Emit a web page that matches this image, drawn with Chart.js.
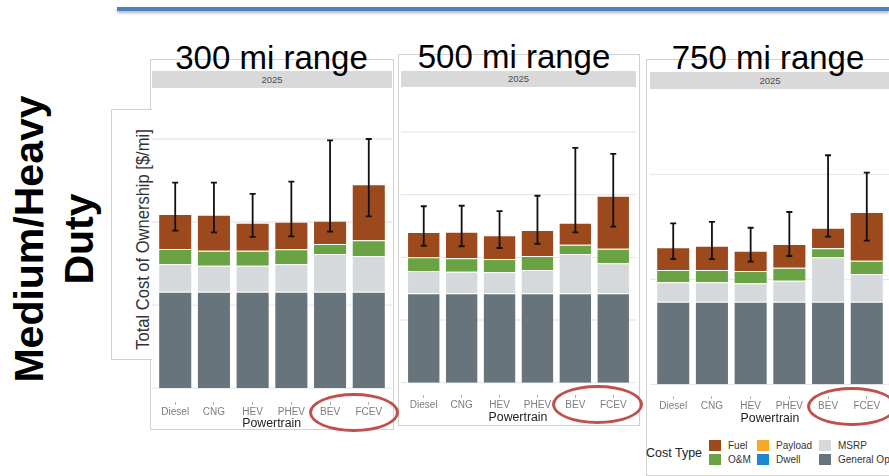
<!DOCTYPE html>
<html>
<head>
<meta charset="utf-8">
<script src="https://cdn.jsdelivr.net/npm/chart.js@4"></script>
<style>
  html, body { margin: 0; padding: 0; background: #fff; }
  body { position: relative; width: 889px; height: 476px; overflow: hidden; font-family: "Liberation Sans", Arial, sans-serif; }
  .abs { position: absolute; }
  .frame { position: absolute; border: 1px solid #d2d2d2; box-sizing: border-box; }
  .strip { position: absolute; background: #d9d9d9; color: #4d4d4d; font-size: 9.5px; text-align: center; }
  .title { position: absolute; font-size: 33px; line-height: 33px; color: #000; white-space: nowrap; transform: translateX(-50%); }
  .xtitle { position: absolute; font-size: 12.3px; line-height: 14px; color: #222; transform: translate(-50%, -50%); white-space: nowrap; }
  .ring { position: absolute; border: 3px solid #c0504d; border-radius: 50%; box-sizing: border-box; }
  .key { position: absolute; width: 12px; height: 11px; }
  .klabel { position: absolute; font-size: 10px; line-height: 11px; color: #333; white-space: nowrap; }
</style>
</head>
<body>

<div class="abs" style="left:117px;top:7px;width:772px;height:4px;background:#4f81bd;box-shadow:0 2px 3px rgba(0,0,0,0.3);"></div>

<div class="abs" style="left:-106px;top:189px;width:320px;height:100px;transform:rotate(-90deg);font-weight:bold;font-size:41px;line-height:50px;text-align:center;color:#000;">Medium/Heavy<br>Duty</div>

<!-- panel frames -->
<div class="frame" style="left:150px;top:59px;width:244px;height:371px;"></div>
<div class="frame" style="left:398px;top:54px;width:242px;height:372px;"></div>
<div class="frame" style="left:646px;top:59px;width:260px;height:417px;"></div>

<!-- y axis title box -->
<div class="abs" style="left:111px;top:109px;width:41px;height:251px;background:#fff;border:1px solid #d2d2d2;border-right:none;box-sizing:border-box;"></div>
<div class="abs" style="left:2px;top:229.5px;width:280px;height:19px;font-size:19px;line-height:19px;color:#333;text-align:center;white-space:nowrap;transform:rotate(-90deg) scaleX(0.87);">Total Cost of Ownership [$/mi]</div>

<div class="strip" id="strip0" style="left:152px;top:71px;width:240px;height:17px;line-height:17px;"></div>
<div class="strip" id="strip1" style="left:401px;top:71px;width:235px;height:16px;line-height:16px;"></div>
<div class="strip" id="strip2" style="left:650px;top:72px;width:240px;height:17px;line-height:17px;"></div>

<canvas id="c300" class="abs"></canvas>
<canvas id="c500" class="abs"></canvas>
<canvas id="c750" class="abs"></canvas>

<div class="title" id="title0" style="left:271.5px;top:40.5px;"></div>
<div class="title" id="title1" style="left:514px;top:39.5px;"></div>
<div class="title" id="title2" style="left:768px;top:40.5px;"></div>

<div class="xtitle" id="xt0" style="left:271.7px;top:423.3px;"></div>
<div class="xtitle" id="xt1" style="left:518px;top:416.7px;"></div>
<div class="xtitle" id="xt2" style="left:770px;top:418.3px;"></div>

<div class="ring" style="left:309px;top:393px;width:90px;height:39px;"></div>
<div class="ring" style="left:552px;top:385px;width:91px;height:39px;"></div>
<div class="ring" style="left:807px;top:387px;width:90px;height:39px;"></div>

<div id="legend"></div>

<script>
// categories and cost components
var powertrains = ['Diesel', 'CNG', 'HEV', 'PHEV', 'BEV', 'FCEV'];
var costTypes = ['Fuel', 'O&M', 'Payload', 'Dwell', 'MSRP', 'General Op'];
var rangeTitles = ['300 mi range', '500 mi range', '750 mi range'];
var yearLabel = '2025';
var xAxisTitle = 'Powertrain';
var legendTitle = 'Cost Type';

// 300 mi range [$/mi]
var generalOp300 = [0.58, 0.58, 0.58, 0.58, 0.58, 0.58];
var msrp300 = [0.167, 0.157, 0.157, 0.165, 0.227, 0.215];
var om300 = [0.09, 0.09, 0.09, 0.091, 0.06, 0.095];
var fuel300 = [0.211, 0.217, 0.169, 0.166, 0.141, 0.337];
var errLow300 = [0.948, 0.938, 0.91, 0.914, 0.942, 1.034];
var errHigh300 = [1.237, 1.237, 1.169, 1.243, 1.492, 1.5];
var yTicks300 = [0, 0.5, 1, 1.5];

// 500 mi range
var generalOp500 = [0.713, 0.713, 0.713, 0.713, 0.713, 0.713];
var msrp500 = [0.178, 0.172, 0.167, 0.186, 0.313, 0.239];
var om500 = [0.109, 0.107, 0.106, 0.111, 0.074, 0.117];
var fuel500 = [0.202, 0.212, 0.189, 0.208, 0.176, 0.422];
var errLow500 = [1.092, 1.088, 1.074, 1.108, 1.199, 1.244];
var errHigh500 = [1.407, 1.411, 1.369, 1.491, 1.872, 1.824];
var yTicks500 = [0, 0.5, 1, 1.5, 2];

// 750 mi range
var generalOp750 = [0.787, 0.787, 0.787, 0.787, 0.787, 0.787];
var msrp750 = [0.184, 0.184, 0.175, 0.2, 0.423, 0.263];
var om750 = [0.118, 0.118, 0.117, 0.123, 0.085, 0.127];
var fuel750 = [0.216, 0.231, 0.193, 0.226, 0.196, 0.464];
var errLow750 = [1.193, 1.193, 1.168, 1.222, 1.406, 1.368];
var errHigh750 = [1.533, 1.546, 1.491, 1.641, 2.181, 2.015];
var yTicks750 = [0, 1, 2];

var costColors = {
    'Fuel': '#9c4a1d',
    'O&M': '#6aa343',
    'Payload': '#f7a829',
    'Dwell': '#1f86d4',
    'MSRP': '#d6d9dc',
    'General Op': '#68747b'
};

var fontFamily = '"Liberation Sans", Arial, sans-serif';

// where each panel sits on the slide
var panels = [
    { id: 'c300', left: 152, top: 88, width: 240, plotBottom: 402, yMin: -0.084, yMax: 1.807,
      stacks: [generalOp300, msrp300, om300, fuel300], low: errLow300, high: errHigh300, ticks: yTicks300 },
    { id: 'c500', left: 401, top: 87, width: 235, plotBottom: 395, yMin: -0.098, yMax: 2.358,
      stacks: [generalOp500, msrp500, om500, fuel500], low: errLow500, high: errHigh500, ticks: yTicks500 },
    { id: 'c750', left: 650, top: 89, width: 240, plotBottom: 396, yMin: -0.111, yMax: 2.812,
      stacks: [generalOp750, msrp750, om750, fuel750], low: errLow750, high: errHigh750, ticks: yTicks750 }
];

function gridPlugin(ticks) {
    return {
        id: 'panelGrid',
        beforeDatasetsDraw: function (chart) {
            var ctx = chart.ctx, y = chart.scales.y;
            ctx.save();
            ctx.strokeStyle = '#e9e9e9';
            ctx.lineWidth = 1.3;
            ticks.forEach(function (v) {
                var py = y.getPixelForValue(v);
                ctx.beginPath();
                ctx.moveTo(0, py);
                ctx.lineTo(chart.width, py);
                ctx.stroke();
            });
            ctx.restore();
        }
    };
}

function errorBarPlugin(low, high) {
    return {
        id: 'errorBars',
        afterDatasetsDraw: function (chart) {
            var ctx = chart.ctx, x = chart.scales.x, y = chart.scales.y;
            ctx.save();
            ctx.strokeStyle = '#111';
            ctx.lineWidth = 1.8;
            low.forEach(function (lo, i) {
                var px = x.getPixelForValue(i);
                var y1 = y.getPixelForValue(lo), y2 = y.getPixelForValue(high[i]);
                ctx.beginPath();
                ctx.moveTo(px, y1); ctx.lineTo(px, y2);
                ctx.moveTo(px - 3, y1); ctx.lineTo(px + 3, y1);
                ctx.moveTo(px - 3, y2); ctx.lineTo(px + 3, y2);
                ctx.stroke();
            });
            ctx.restore();
        }
    };
}

var stackNames = ['General Op', 'MSRP', 'O&M', 'Fuel'];

panels.forEach(function (p, n) {
    var canvas = document.getElementById(p.id);
    var h = p.plotBottom - p.top + 20;
    canvas.width = p.width;
    canvas.height = h;
    canvas.style.left = p.left + 'px';
    canvas.style.top = p.top + 'px';
    canvas.style.width = p.width + 'px';
    canvas.style.height = h + 'px';
    var pad = p.width / 6.2 * 0.1;

    new Chart(canvas.getContext('2d'), {
        type: 'bar',
        data: {
            labels: powertrains,
            datasets: stackNames.map(function (name, k) {
                return {
                    label: name,
                    data: p.stacks[k],
                    backgroundColor: costColors[name],
                    borderColor: 'rgba(255,255,255,0.45)',
                    borderWidth: 1,
                    categoryPercentage: 1,
                    barPercentage: 0.88
                };
            })
        },
        options: {
            responsive: false,
            animation: false,
            layout: { padding: { left: pad, right: pad, top: 0, bottom: 4 } },
            plugins: { legend: { display: false }, tooltip: { enabled: false } },
            scales: {
                x: {
                    stacked: true,
                    offset: true,
                    grid: { display: true, drawOnChartArea: false, drawTicks: true, tickLength: 3, offset: false, color: '#b0b0b0' },
                    border: { display: false },
                    ticks: { color: '#7c7c7c', font: { size: 10, family: fontFamily }, padding: 1, maxRotation: 0, autoSkip: false },
                    afterFit: function (s) { s.height = 16; }
                },
                y: { stacked: true, display: false, min: p.yMin, max: p.yMax }
            }
        },
        plugins: [gridPlugin(p.ticks), errorBarPlugin(p.low, p.high)]
    });

    document.getElementById('title' + n).textContent = rangeTitles[n];
    document.getElementById('strip' + n).textContent = yearLabel;
    document.getElementById('xt' + n).textContent = xAxisTitle;
});

// legend (Cost Type) under the last panel
var legend = document.getElementById('legend');
var lt = document.createElement('div');
lt.className = 'klabel';
lt.style.cssText = 'left:646px;top:445px;font-size:12.5px;line-height:16px;color:#222;';
lt.textContent = legendTitle;
legend.appendChild(lt);
var keyCols = [709, 757, 819];
var keyRows = [440, 454];
costTypes.forEach(function (name, i) {
    var col = Math.floor(i / 2), row = i % 2;
    var k = document.createElement('div');
    k.className = 'key';
    k.style.left = keyCols[col] + 'px';
    k.style.top = keyRows[row] + 'px';
    k.style.background = costColors[name];
    legend.appendChild(k);
    var t = document.createElement('div');
    t.className = 'klabel';
    t.style.left = (keyCols[col] + 19) + 'px';
    t.style.top = keyRows[row] + 'px';
    t.textContent = name;
    legend.appendChild(t);
});
</script>
</body>
</html>
